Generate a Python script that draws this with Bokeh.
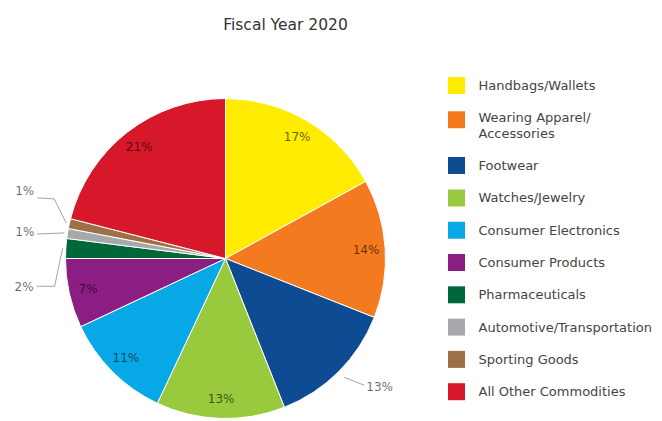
import math
from bokeh.plotting import figure
from bokeh.models import Range1d, ColumnDataSource
from bokeh.embed import file_html
from bokeh.resources import INLINE
from bokeh.core.properties import value

# ---------------- data ----------------
title_text = "Fiscal Year 2020"
categories = [
    "Handbags/Wallets",
    "Wearing Apparel/Accessories",
    "Footwear",
    "Watches/Jewelry",
    "Consumer Electronics",
    "Consumer Products",
    "Pharmaceuticals",
    "Automotive/Transportation",
    "Sporting Goods",
    "All Other Commodities",
]
legend_labels = [
    "Handbags/Wallets",
    "Wearing Apparel/\nAccessories",
    "Footwear",
    "Watches/Jewelry",
    "Consumer Electronics",
    "Consumer Products",
    "Pharmaceuticals",
    "Automotive/Transportation",
    "Sporting Goods",
    "All Other Commodities",
]
shares = [17, 14, 13, 13, 11, 7, 2, 1, 1, 21]
colors = [
    "#FFEC00", "#F37A1F", "#0D4C93", "#99C93C", "#06A9E6",
    "#8C1D82", "#006838", "#A6A8AB", "#9D7046", "#D7182A",
]

# ---------------- layout / style ----------------
W, H = 662, 421
FONT = value("DejaVu Sans")


def px(X, Y):
    """image pixel -> data coordinate"""
    return X, H - Y


CX, CY = px(225, 258)
R = 160

# outside label leaders: radius factor, then pixel offsets (dx, dy-down) of successive points
leaders = {
    "Footwear": dict(rf=1.05, pts=[(20, 8)], align="left", tdx=2, tdy=2),
    "Pharmaceuticals": dict(rf=1.02, pts=[(-8, 38), (-18, 0)], align="right", tdx=-3, tdy=1),
    "Automotive/Transportation": dict(rf=1.02, pts=[(-27, 1)], align="right", tdx=-3, tdy=-2),
    "Sporting Goods": dict(rf=1.02, pts=[(-12, -24), (-17, -1)], align="right", tdx=-3, tdy=-7),
}

p = figure(
    width=W, height=H,
    x_range=Range1d(0, W), y_range=Range1d(0, H),
    output_backend="svg", toolbar_location=None,
    min_border=0, outline_line_color=None,
)
p.axis.visible = False
p.grid.visible = False
p.background_fill_color = "white"
p.border_fill_color = "white"

# wedges
total = float(sum(shares))
starts, ends, mids = [], [], []
cum = 0.0
for s in shares:
    a0 = cum / total
    cum += s
    a1 = cum / total
    starts.append(math.pi / 2 - 2 * math.pi * a0)
    ends.append(math.pi / 2 - 2 * math.pi * a1)
    mids.append(math.pi / 2 - 2 * math.pi * (a0 + a1) / 2)

src = ColumnDataSource(dict(cat=categories, share=shares, color=colors,
                            start=starts, end=ends))
p.wedge(x=CX, y=CY, radius=R, start_angle="start", end_angle="end",
        direction="clock", fill_color="color", line_color="white",
        line_width=1, source=src)

# percentage labels
in_x, in_y, in_t = [], [], []
for cat, s, m in zip(categories, shares, mids):
    lab = f"{s}%"
    if cat in leaders:
        st = leaders[cat]
        x0 = CX + st["rf"] * R * math.cos(m)
        y0 = CY + st["rf"] * R * math.sin(m)
        xs, ys = [x0], [y0]
        for dx, dy in st["pts"]:
            xs.append(xs[-1] + dx)
            ys.append(ys[-1] - dy)
        p.line(xs, ys, line_color="#A8A49A", line_width=1)
        p.text([xs[-1] + st["tdx"]], [ys[-1] - st["tdy"]], text=[lab],
               text_align=st["align"], text_baseline="middle",
               text_font=FONT, text_font_size="12px",
               text_color="#000000", text_alpha=0.6)
    else:
        in_x.append(CX + 0.88 * R * math.cos(m))
        in_y.append(CY + 0.88 * R * math.sin(m))
        in_t.append(lab)
p.text(in_x, in_y, text=in_t, text_align="center", text_baseline="middle",
       text_font=FONT, text_font_size="12px", text_color="#000000", text_alpha=0.62)

# title
tx, ty = px(285, 24)
p.text([tx], [ty], text=[title_text], text_align="center", text_baseline="middle",
       text_font=FONT, text_font_size="15.5px", text_color="#333333")

# legend
LX_SQ, LX_TX = 456, 478
row_y0, row_step, line_step = 85, 32.3, 15.5
sq_x, sq_y, lab_x, lab_y, lab_t = [], [], [], [], []
extra = 0
for i, lab in enumerate(legend_labels):
    y = row_y0 + row_step * i + line_step * extra
    lines = lab.split("\n")
    sx, sy = px(LX_SQ, y + (2 if len(lines) > 1 else 0))
    sq_x.append(sx)
    sq_y.append(sy)
    for j, ln in enumerate(lines):
        X, Y = px(LX_TX, y + j * 16)
        lab_x.append(X)
        lab_y.append(Y)
        lab_t.append(ln)
    extra += len(lines) - 1

p.rect(sq_x, sq_y, width=17, height=17, fill_color=colors, line_color=None)
p.text(lab_x, lab_y, text=lab_t, text_align="left", text_baseline="middle",
       text_font=FONT, text_font_size="13px", text_color="#444444")

open("out.html", "w").write(file_html(p, INLINE))
